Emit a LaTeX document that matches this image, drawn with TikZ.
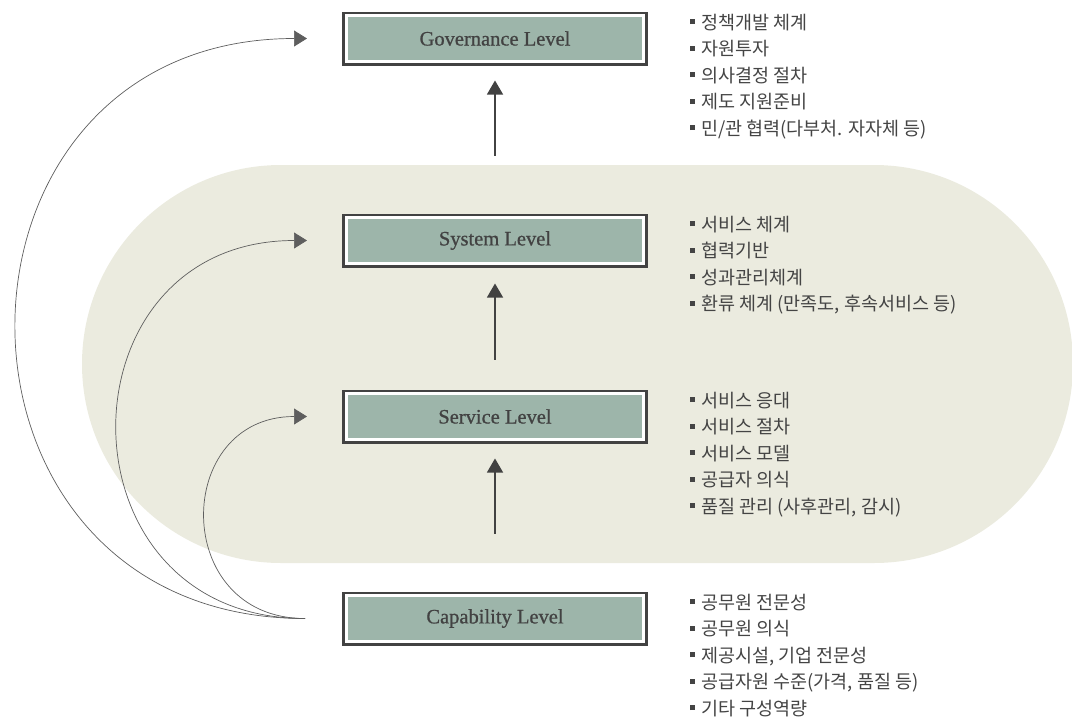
\documentclass[tikz,border=0pt]{standalone}
\usepackage{fontspec}
\setmainfont{Liberation Serif}
\newfontfamily\boxfont[FakeBold=0.8]{Liberation Serif}
\newfontfamily\kr{Noto Sans CJK KR}
\usepackage{tikz}
\usetikzlibrary{arrows.meta,positioning}

\definecolor{bgtan}{HTML}{EBEBDF}
\definecolor{sage}{HTML}{9DB5AA}
\definecolor{darkline}{HTML}{424242}
\definecolor{txtgray}{HTML}{444444}
\newcommand{\bul}{\rule[5pt]{5pt}{5pt}\hspace{6pt}}

\begin{document}
\begin{tikzpicture}[x=1pt, y=-1pt,
  lvlbox/.style={rectangle, fill=sage, draw=white, line width=3pt, preaction={draw=darkline, line width=8.4pt}, minimum width=297.6pt, minimum height=45.6pt, outer sep=4.2pt, font=\boxfont\fontsize{20.5}{24}\selectfont, text=darkline},
  lvlitems/.style={anchor=north west, align=left, inner sep=0pt, font=\kr\fontsize{18.5}{26.5}\selectfont, text=txtgray},
  uparrow/.style={-{Triangle[length=14pt,width=16pt]}, line width=1.2pt, draw=darkline},
  feed/.style={-{Triangle[length=13pt,width=16pt]}, line width=0.7pt, draw=darkline!85}]
  \useasboundingbox (0,0) rectangle (1072,718);

  % background band
  \fill[bgtan, rounded corners=199pt] (82,165) rectangle (1073,563);

  \node[lvlbox] (gov) at (495,38.5) {Governance Level};
  \node[lvlbox, below=148pt of gov] (sys) {System Level};
  \node[lvlbox, below=122pt of sys] (serv) {Service Level};
  \node[lvlbox, below=148pt of serv] (cap) {Capability Level};

  \draw[uparrow, shorten <=58pt, shorten >=15pt] (cap) -- (serv);
  \draw[uparrow, shorten <=30pt, shorten >=16pt] (serv) -- (sys);
  \draw[uparrow, shorten <=58pt, shorten >=15pt] (sys) -- (gov);

  % feedback curves
  \coordinate[left=37pt of cap] (src);
  \coordinate[left=35pt of gov] (govin);
  \coordinate[left=35pt of sys] (sysin);
  \coordinate[left=35pt of serv] (servin);
  \draw[feed] (src) to[out=180, in=180, looseness=1.7] (govin);
  \draw[feed] (src) to[out=180, in=180, looseness=1.7] (sysin);
  \draw[feed] (src) to[out=180, in=180, looseness=1.7] (servin);

  % item lists
  \node[lvlitems] (govtxt) at ([xshift=42pt, yshift=-2pt]gov.north east) {\bul 정책개발 체계\\\bul 자원투자\\\bul 의사결정 절차\\\bul 제도 지원준비\\\bul 민/관 협력(다부처. 자자체 등)};
  \node[lvlitems] (systxt) at ([xshift=42pt, yshift=-2pt]sys.north east) {\bul 서비스 체계\\\bul 협력기반\\\bul 성과관리체계\\\bul 환류 체계 (만족도, 후속서비스 등)};
  \node[lvlitems] (servtxt) at ([xshift=42pt, yshift=-2pt]serv.north east) {\bul 서비스 응대\\\bul 서비스 절차\\\bul 서비스 모델\\\bul 공급자 의식\\\bul 품질 관리 (사후관리, 감시)};
  \node[lvlitems] (captxt) at ([xshift=42pt, yshift=-2pt]cap.north east) {\bul 공무원 전문성\\\bul 공무원 의식\\\bul 제공시설, 기업 전문성\\\bul 공급자원 수준(가격, 품질 등)\\\bul 기타 구성역량};
\end{tikzpicture}
\end{document}
